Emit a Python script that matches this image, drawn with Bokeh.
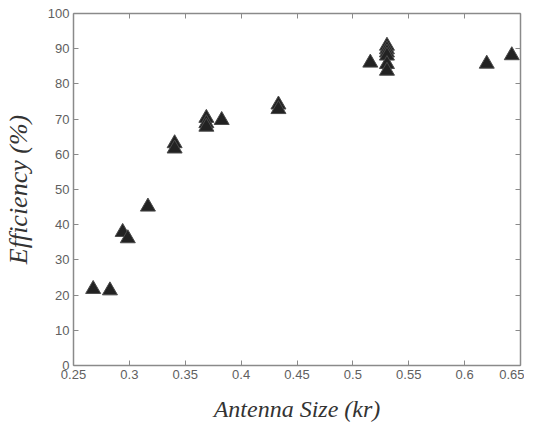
from bokeh.plotting import figure
from bokeh.models import LinearAxis, Range1d, FixedTicker
from bokeh.embed import file_html
from bokeh.resources import INLINE

antenna_size = [0.2676, 0.2826, 0.294, 0.2986, 0.3166, 0.3405, 0.3405,
                0.3689, 0.3689, 0.3689, 0.3826, 0.4334, 0.4334, 0.5156,
                0.5305, 0.5305, 0.5305, 0.5305, 0.5305, 0.5305, 0.6198, 0.6422]
efficiency = [21.7, 21.3, 37.9, 36.1, 45.1, 63.1, 61.6,
              70.3, 68.8, 67.8, 69.7, 74.1, 72.8, 86.0,
              90.8, 89.8, 88.9, 88.0, 85.6, 83.7, 85.7, 88.1]
x_ticks = [0.25, 0.3, 0.35, 0.4, 0.45, 0.5, 0.55, 0.6, 0.65]
y_ticks = [0, 10, 20, 30, 40, 50, 60, 70, 80, 90, 100]

p = figure(frame_width=447, frame_height=352, output_backend="svg",
           toolbar_location=None, x_range=Range1d(0.25, 0.65),
           y_range=Range1d(0, 100), min_border_left=71, min_border_top=13,
           min_border_right=4, min_border_bottom=50)
p.grid.visible = False
p.outline_line_color = None
p.background_fill_color = "white"
p.border_fill_color = "white"

p.scatter(antenna_size, efficiency, marker="triangle", size=15,
          fill_color="#222222", line_color="#4a4a4a", line_width=1)

axis_color = "#8a8a8a"
for ax in [p.xaxis[0], p.yaxis[0]]:
    ax.axis_line_color = axis_color
    ax.axis_line_width = 1.5
    ax.major_tick_line_color = axis_color
    ax.major_tick_in = 5
    ax.major_tick_out = 0
    ax.minor_tick_line_color = None
    ax.major_label_text_font = "Liberation Sans"
    ax.major_label_text_font_size = "13px"
    ax.major_label_text_color = "#606060"
    ax.axis_label_text_font = "Liberation Serif"
    ax.axis_label_text_font_style = "italic"
    ax.axis_label_text_color = "#333333"

p.xaxis[0].ticker = FixedTicker(ticks=x_ticks)
p.yaxis[0].ticker = FixedTicker(ticks=y_ticks)
p.xaxis[0].axis_label = "Antenna Size (kr)"
p.yaxis[0].axis_label = "Efficiency (%)"
p.xaxis[0].axis_label_text_font_size = "24px"
p.yaxis[0].axis_label_text_font_size = "26px"
p.xaxis[0].major_label_standoff = 4
p.yaxis[0].major_label_standoff = 4
p.xaxis[0].axis_label_standoff = 14
p.yaxis[0].axis_label_standoff = 12

for loc, ticks in [("right", y_ticks), ("above", x_ticks)]:
    ax = LinearAxis(ticker=FixedTicker(ticks=ticks))
    ax.axis_line_color = axis_color
    ax.axis_line_width = 1.5
    ax.major_tick_line_color = axis_color
    ax.major_tick_in = 5
    ax.major_tick_out = 0
    ax.minor_tick_line_color = None
    ax.major_label_overrides = {t: "" for t in ticks}
    ax.major_label_standoff = 0
    p.add_layout(ax, loc)

open("out.html", "w").write(file_html(p, INLINE))
